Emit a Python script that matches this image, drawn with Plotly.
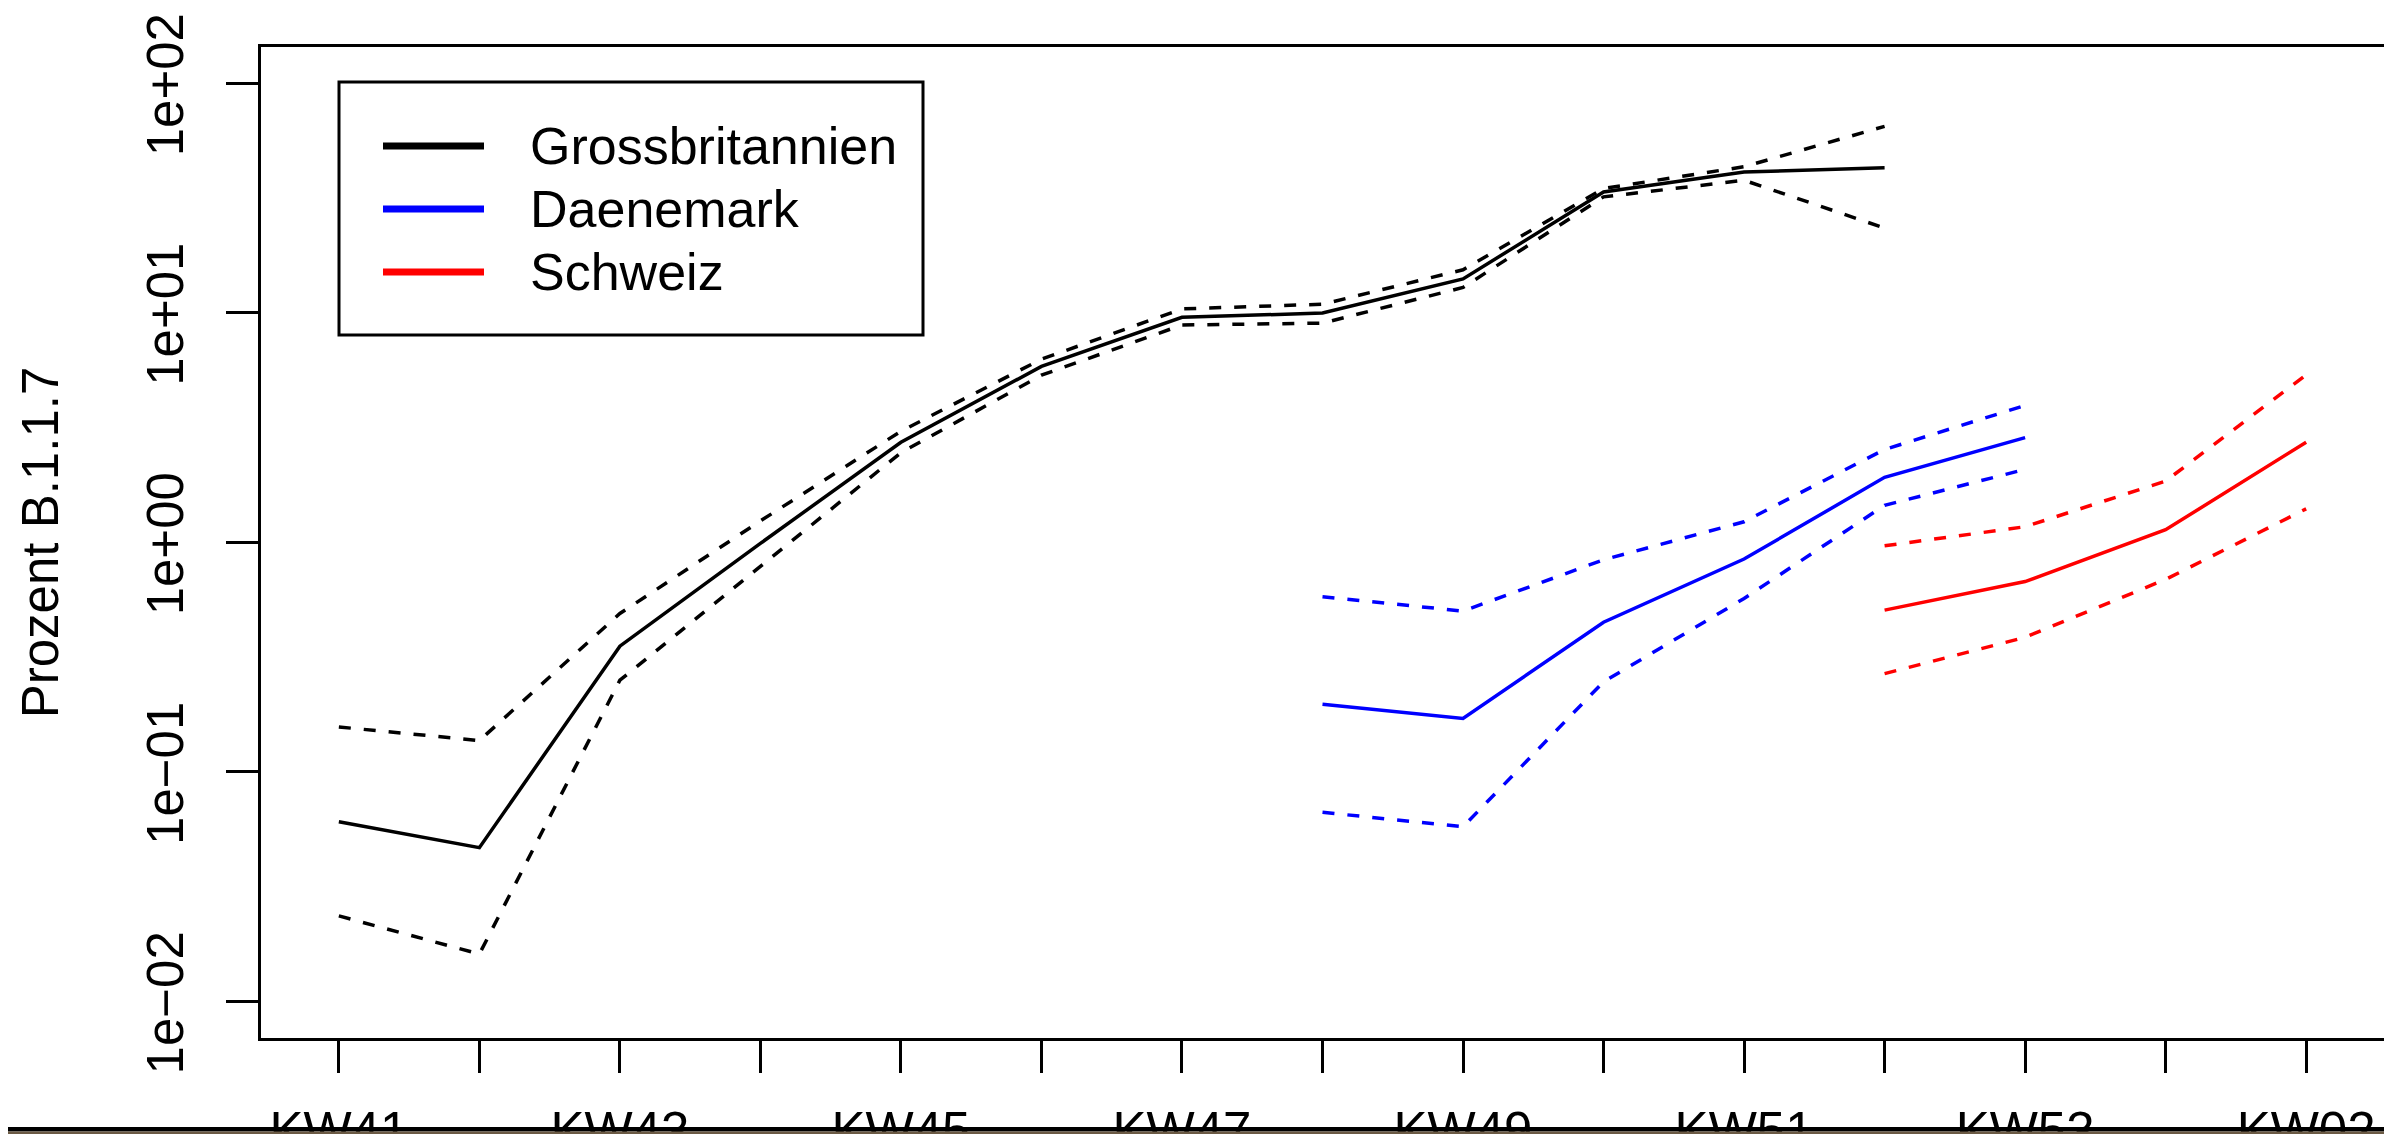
import plotly.graph_objects as go

# ---------------- data ----------------
weeks = ["KW41", "KW42", "KW43", "KW44", "KW45", "KW46", "KW47", "KW48",
         "KW49", "KW50", "KW51", "KW52", "KW53", "KW01", "KW02"]

gb_weeks = weeks[0:12]
gb_mid = [0.0607, 0.0468, 0.353, 0.99, 2.73, 5.84, 9.56, 9.98, 14.05, 33.6, 41.1, 42.8]
gb_upper = [0.157, 0.137, 0.49, 1.24, 3.05, 6.28, 10.4, 10.9, 15.4, 34.8, 43.3, 64.9]
gb_lower = [0.0236, 0.0161, 0.251, 0.79, 2.46, 5.35, 8.85, 9.02, 12.9, 32.0, 37.8, 23.4]

dk_weeks = weeks[7:13]
dk_mid = [0.197, 0.171, 0.449, 0.846, 1.92, 2.86]
dk_upper = [0.58, 0.502, 0.84, 1.23, 2.54, 3.95]
dk_lower = [0.0667, 0.0577, 0.247, 0.57, 1.45, 2.08]

ch_weeks = weeks[11:15]
ch_mid = [0.507, 0.675, 1.135, 2.73]
ch_upper = [0.966, 1.17, 1.85, 5.37]
ch_lower = [0.268, 0.386, 0.69, 1.40]

series_names = ["Grossbritannien", "Daenemark", "Schweiz"]
series_colors = ["#000000", "#0000FF", "#FF0000"]
y_tick_vals = [0.01, 0.1, 1, 10, 100]
y_tick_text = ["1e\u221202", "1e\u221201", "1e+00", "1e+01", "1e+02"]
y_title = "Prozent B.1.1.7"

# ---------------- layout constants ----------------
# page has an 8px body margin: figure origin sits at page (8, 8)
OFF = 8
W, H = 2392, 1134
PAGE_L, PAGE_R, PAGE_T, PAGE_B = 261, 2384, 47, 1038   # plot box in page pixels
L = PAGE_L - OFF
T = PAGE_T - OFF
R = W - (PAGE_R - OFF)
B = H - (PAGE_B - OFF)
PW, PH = W - L - R, H - T - B
FONT = "Liberation Sans, Arial, Helvetica, sans-serif"
FS = 51
LW = 3.5
DASH = "12px,13px"


def px_x(px):
    """page pixel x -> paper fraction"""
    return (px - OFF - L) / PW


def px_y(py):
    """page pixel y -> paper fraction"""
    return (H - B - (py - OFF)) / PH


pos = {w: i + 1 for i, w in enumerate(weeks)}

fig = go.Figure()
groups = [
    (gb_weeks, gb_mid, gb_upper, gb_lower, series_colors[0]),
    (dk_weeks, dk_mid, dk_upper, dk_lower, series_colors[1]),
    (ch_weeks, ch_mid, ch_upper, ch_lower, series_colors[2]),
]
for (wk, mid, up, lo, col), name in zip(groups, series_names):
    xs = [pos[w] for w in wk]
    fig.add_trace(go.Scatter(x=xs, y=mid, mode="lines", name=name,
                             line=dict(color=col, width=LW), showlegend=False))
    fig.add_trace(go.Scatter(x=xs, y=up, mode="lines", name=name + " oben",
                             line=dict(color=col, width=LW, dash=DASH),
                             showlegend=False))
    fig.add_trace(go.Scatter(x=xs, y=lo, mode="lines", name=name + " unten",
                             line=dict(color=col, width=LW, dash=DASH),
                             showlegend=False))

# x tick labels: R drops every other label (overlap)
x_tick_text = [w if i % 2 == 0 else "" for i, w in enumerate(weeks)]

fig.update_layout(
    width=W, height=H, autosize=False,
    margin=dict(l=L, r=R, t=T, b=B, pad=0),
    paper_bgcolor="white", plot_bgcolor="white",
    font=dict(family=FONT, size=FS, color="black"),
    showlegend=False,
    xaxis=dict(range=[0.446, 15.554], tickmode="array", automargin=False,
               tickvals=list(range(1, len(weeks) + 1)), ticktext=x_tick_text,
               ticks="outside", ticklen=32, tickwidth=3, tickcolor="black",
               showline=True, linewidth=3, linecolor="black", mirror=True,
               showgrid=False, zeroline=False, ticklabelstandoff=14,
               ticklabeloverflow="allow", tickfont=dict(size=FS)),
    yaxis=dict(type="log", range=[-2.159, 2.158], tickmode="array", automargin=False,
               tickvals=y_tick_vals, ticktext=y_tick_text, tickangle=-90,
               ticks="outside", ticklen=32, tickwidth=3, tickcolor="black",
               showline=True, linewidth=3, linecolor="black", mirror=True,
               showgrid=False, zeroline=False, ticklabelstandoff=23,
               ticklabelshift=9,
               ticklabeloverflow="allow", tickfont=dict(size=FS),
               title=dict(text=y_title, font=dict(size=FS), standoff=62)),
)

# ---------------- legend (R style box) ----------------
shapes = [dict(type="rect", xref="paper", yref="paper",
               x0=px_x(339), x1=px_x(923), y0=px_y(335), y1=px_y(82),
               line=dict(color="black", width=3), fillcolor="white", layer="above")]
rows = [146, 209, 272]
for ry, name, col in zip(rows, series_names, series_colors):
    shapes.append(dict(type="line", xref="paper", yref="paper",
                       x0=px_x(383), x1=px_x(484), y0=px_y(ry), y1=px_y(ry),
                       line=dict(color=col, width=7), layer="above"))
    fig.add_annotation(x=px_x(528), y=px_y(ry), xref="paper", yref="paper",
                       text=name, showarrow=False, xanchor="left", yanchor="middle",
                       font=dict(size=52, family=FONT, color="black"))

# dark band at bottom edge of the picture
shapes.append(dict(type="rect", xref="paper", yref="paper",
                   x0=-0.2, x1=1.1, y0=px_y(1131.5), y1=px_y(1127),
                   line=dict(width=0), fillcolor="black", layer="above"))
shapes.append(dict(type="rect", xref="paper", yref="paper",
                   x0=-0.2, x1=1.1, y0=px_y(1145), y1=px_y(1131.5),
                   line=dict(width=0), fillcolor="#6b5a44", layer="above"))
fig.update_layout(shapes=shapes)

fig.write_html("out.html")
